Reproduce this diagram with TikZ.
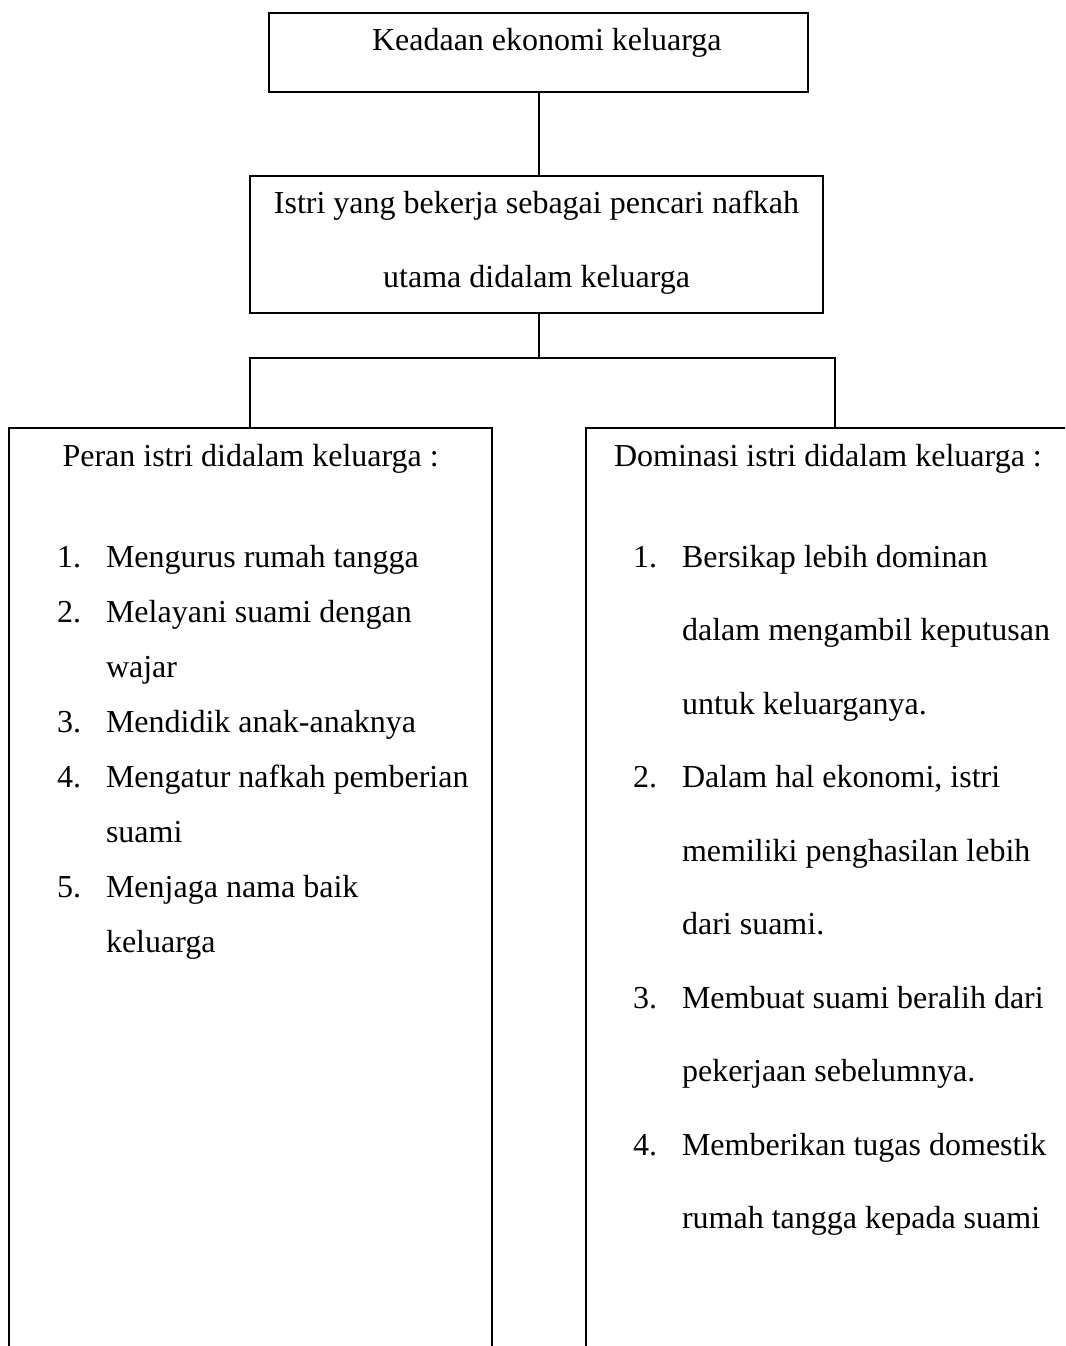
\documentclass[tikz,border=0pt]{standalone}
\usepackage{fontspec}
\setmainfont{Liberation Serif}
\usetikzlibrary{calc}

\newlength\px
\setlength\px{0.375pt}

\tikzset{
  kotak/.style={draw,rectangle,line width=0.75pt,inner sep=0pt},
  teks/.style={anchor=base west,inner sep=0pt,font=\fontsize{12}{14}\selectfont},
  garis/.style={line width=0.75pt},
}

\begin{document}
\begin{tikzpicture}[x=0.375pt,y=-0.375pt]
      \useasboundingbox (0,0) rectangle (1065,1346);
      \clip (0,0) rectangle (1065,1346);
      % kotak-kotak
      \node[kotak,minimum width=539\px,minimum height=79\px] (ekonomi) at (538.5,52.5) {};
      \node[kotak,minimum width=573\px,minimum height=137\px] (istri) at (536.5,244.5) {};
      \node[kotak,anchor=north,minimum width=483\px,minimum height=1000\px] (peran) at (250,427) {};
      \node[kotak,anchor=north,minimum width=498\px,minimum height=1000\px] (dominasi) at (835,427) {};
      % penghubung
      \coordinate (cabang) at (538.5,358);
      \draw[garis] (ekonomi.south) -- (ekonomi.south |- istri.north);
      \draw[garis] (cabang |- istri.south) -- (cabang);
      \draw[garis] (peran.north) |- (cabang) -| (dominasi.north);
      % teks atas
      \node[teks] (tekonomi) at (371.5,51) {Keadaan ekonomi keluarga};
      \node[teks] (tistri1) at (273.4,214) {Istri yang bekerja sebagai pencari nafkah};
      \node[teks] (tistri2) at (382.7,288) {utama didalam keluarga};
      % kiri
      \node[teks] (jperan) at (62,467) {Peran istri didalam keluarga :};
      \foreach \n/\y in {1/567,2/622,3/732,4/787,5/897}
        \node[teks] (pnum\n) at (56.5,\y) {\n.};
      \foreach \baris [count=\i] in {Mengurus rumah tangga,Melayani suami dengan,wajar,Mendidik anak-anaknya,Mengatur nafkah pemberian,suami,Menjaga nama baik,keluarga}
        \node[teks] (pbaris\i) at (105.5,{512+55*\i}) {\baris};
      % kanan
      \node[teks] (jdominasi) at (613.5,467) {Dominasi istri didalam keluarga :};
      \foreach \n/\y in {1/567,2/787.5,3/1008,4/1155}
        \node[teks] (dnum\n) at (632.5,\y) {\n.};
      \foreach \baris [count=\i] in {Bersikap lebih dominan,dalam mengambil keputusan,untuk keluarganya.,{Dalam hal ekonomi, istri},memiliki penghasilan lebih,dari suami.,Membuat suami beralih dari,pekerjaan sebelumnya.,Memberikan tugas domestik,rumah tangga kepada suami}
        \node[teks] (dbaris\i) at (681.5,{493.5+73.5*\i}) {\baris};
\end{tikzpicture}
\end{document}
